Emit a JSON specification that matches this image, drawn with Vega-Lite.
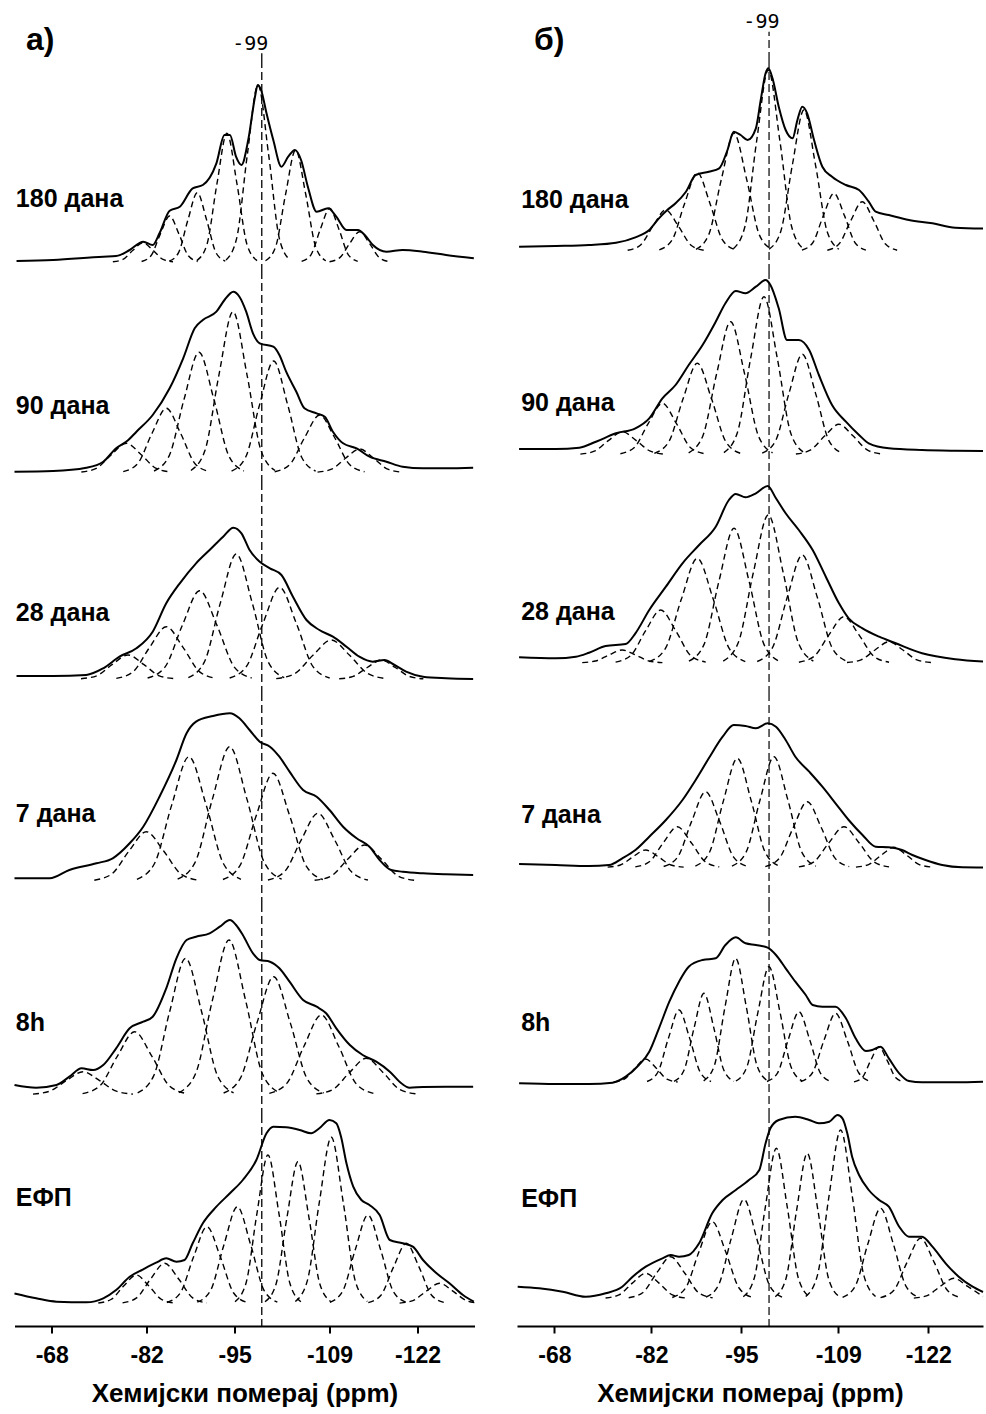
{
"$schema":"https://vega.github.io/schema/vega-lite/v6.json",
"padding":{"left":10.5,"top":12,"right":0,"bottom":5},
"background":"white",
"spacing":34.5,
"config":{"view":{"stroke":null},"text":{"font":"Liberation Sans"},
"axis":{"grid":false,"domainColor":"black","domainWidth":2,"tickColor":"black","tickWidth":2,"tickSize":7,"labelFont":"Liberation Sans","labelFontWeight":"bold","labelFontSize":23,"labelColor":"black","labelPadding":11,"titleFont":"Liberation Sans","titleFontWeight":"bold","titleFontSize":26,"titleColor":"black","titlePadding":13}},
"data":{"values":[
{"p":"a","s":0,"t":"180 дана","x":-62.7,"y":71.8},
{"p":"a","s":1,"t":"90 дана","x":-62.7,"y":75.8},
{"p":"a","s":2,"t":"28 дана","x":-62.7,"y":80.2},
{"p":"a","s":3,"t":"7 дана","x":-62.7,"y":89.8},
{"p":"a","s":4,"t":"8h","x":-62.7,"y":92.5},
{"p":"a","s":5,"t":"ЕФП","x":-62.7,"y":127.7},
{"p":"b","s":0,"t":"180 дана","x":-63.2,"y":71},
{"p":"b","s":1,"t":"90 дана","x":-63.2,"y":78.7},
{"p":"b","s":2,"t":"28 дана","x":-63.2,"y":81.3},
{"p":"b","s":3,"t":"7 дана","x":-63.2,"y":89},
{"p":"b","s":4,"t":"8h","x":-63.2,"y":92.5},
{"p":"b","s":5,"t":"ЕФП","x":-63.2,"y":127},

{"p":"a","s":0,"c":0,"x":-62.8,"y":10},{"p":"a","s":0,"c":0,"x":-68.2,"y":11},{"p":"a","s":0,"c":0,"x":-75.6,"y":14.3},{"p":"a","s":0,"c":0,"x":-77.5,"y":14.9},{"p":"a","s":0,"c":0,"x":-79.5,"y":21},{"p":"a","s":0,"c":0,"x":-81.5,"y":29.3},{"p":"a","s":0,"c":0,"x":-82.9,"y":26},{"p":"a","s":0,"c":0,"x":-83.9,"y":37.7},{"p":"a","s":0,"c":0,"x":-85.4,"y":60.3},{"p":"a","s":0,"c":0,"x":-86.9,"y":64.3},{"p":"a","s":0,"c":0,"x":-88.8,"y":82.7},{"p":"a","s":0,"c":0,"x":-90.3,"y":86},{"p":"a","s":0,"c":0,"x":-92.3,"y":107.7},{"p":"a","s":0,"c":0,"x":-93.5,"y":136},{"p":"a","s":0,"c":0,"x":-94.3,"y":136},{"p":"a","s":0,"c":0,"x":-95.2,"y":114.3},{"p":"a","s":0,"c":0,"x":-96,"y":106},{"p":"a","s":0,"c":0,"x":-97,"y":131},{"p":"a","s":0,"c":0,"x":-98,"y":174.3},{"p":"a","s":0,"c":0,"x":-98.4,"y":186},{"p":"a","s":0,"c":0,"x":-98.9,"y":181},{"p":"a","s":0,"c":0,"x":-99.7,"y":157.7},{"p":"a","s":0,"c":0,"x":-100.7,"y":131},{"p":"a","s":0,"c":0,"x":-101.9,"y":104.3},{"p":"a","s":0,"c":0,"x":-102.9,"y":114.3},{"p":"a","s":0,"c":0,"x":-103.9,"y":121},{"p":"a","s":0,"c":0,"x":-104.8,"y":111},{"p":"a","s":0,"c":0,"x":-105.8,"y":84.3},{"p":"a","s":0,"c":0,"x":-107.1,"y":59.3},{"p":"a","s":0,"c":0,"x":-108.8,"y":62.7},{"p":"a","s":0,"c":0,"x":-110,"y":54.3},{"p":"a","s":0,"c":0,"x":-111.5,"y":41},{"p":"a","s":0,"c":0,"x":-113.2,"y":41},{"p":"a","s":0,"c":0,"x":-114.2,"y":36},{"p":"a","s":0,"c":0,"x":-115.4,"y":26},{"p":"a","s":0,"c":0,"x":-117.4,"y":19.3},{"p":"a","s":0,"c":0,"x":-119.8,"y":21},{"p":"a","s":0,"c":0,"x":-122.8,"y":19.3},{"p":"a","s":0,"c":0,"x":-126.2,"y":16},{"p":"a","s":0,"c":0,"x":-130.3,"y":12.7},

{"p":"a","s":1,"c":0,"x":-62.5,"y":10.3},{"p":"a","s":1,"c":0,"x":-68.2,"y":11},{"p":"a","s":1,"c":0,"x":-73.1,"y":14.3},{"p":"a","s":1,"c":0,"x":-75.6,"y":20.3},{"p":"a","s":1,"c":0,"x":-77.5,"y":33.7},{"p":"a","s":1,"c":0,"x":-79.3,"y":42},{"p":"a","s":1,"c":0,"x":-80.5,"y":50.3},{"p":"a","s":1,"c":0,"x":-82.9,"y":67},{"p":"a","s":1,"c":0,"x":-85.4,"y":93.7},{"p":"a","s":1,"c":0,"x":-87.4,"y":123.7},{"p":"a","s":1,"c":0,"x":-89.1,"y":153.7},{"p":"a","s":1,"c":0,"x":-90.3,"y":162},{"p":"a","s":1,"c":0,"x":-92.3,"y":170.3},{"p":"a","s":1,"c":0,"x":-93.5,"y":182},{"p":"a","s":1,"c":0,"x":-94.8,"y":190.3},{"p":"a","s":1,"c":0,"x":-95.7,"y":185.3},{"p":"a","s":1,"c":0,"x":-96.7,"y":170.3},{"p":"a","s":1,"c":0,"x":-97.7,"y":148.7},{"p":"a","s":1,"c":0,"x":-98.7,"y":138.7},{"p":"a","s":1,"c":0,"x":-100.7,"y":135.3},{"p":"a","s":1,"c":0,"x":-101.6,"y":127},{"p":"a","s":1,"c":0,"x":-102.6,"y":110.3},{"p":"a","s":1,"c":0,"x":-104.1,"y":90.3},{"p":"a","s":1,"c":0,"x":-105.3,"y":73.7},{"p":"a","s":1,"c":0,"x":-107.1,"y":68.7},{"p":"a","s":1,"c":0,"x":-108.3,"y":65.3},{"p":"a","s":1,"c":0,"x":-109.5,"y":50.3},{"p":"a","s":1,"c":0,"x":-111,"y":38.7},{"p":"a","s":1,"c":0,"x":-113,"y":33.7},{"p":"a","s":1,"c":0,"x":-114.9,"y":25.3},{"p":"a","s":1,"c":0,"x":-117.4,"y":20.3},{"p":"a","s":1,"c":0,"x":-119.8,"y":15.3},{"p":"a","s":1,"c":0,"x":-122.8,"y":13.7},{"p":"a","s":1,"c":0,"x":-126.2,"y":13.7},{"p":"a","s":1,"c":0,"x":-130.2,"y":14.3},

{"p":"a","s":2,"c":0,"x":-62.8,"y":17},{"p":"a","s":2,"c":0,"x":-68.2,"y":17},{"p":"a","s":2,"c":0,"x":-73.1,"y":18},{"p":"a","s":2,"c":0,"x":-75.6,"y":24.7},{"p":"a","s":2,"c":0,"x":-78,"y":36.3},{"p":"a","s":2,"c":0,"x":-80.5,"y":44.7},{"p":"a","s":2,"c":0,"x":-82.9,"y":61.3},{"p":"a","s":2,"c":0,"x":-84.9,"y":89.7},{"p":"a","s":2,"c":0,"x":-86.9,"y":109.7},{"p":"a","s":2,"c":0,"x":-89.3,"y":129.7},{"p":"a","s":2,"c":0,"x":-91.3,"y":143},{"p":"a","s":2,"c":0,"x":-93.3,"y":156.3},{"p":"a","s":2,"c":0,"x":-94.8,"y":165.3},{"p":"a","s":2,"c":0,"x":-96,"y":159.7},{"p":"a","s":2,"c":0,"x":-97.2,"y":143},{"p":"a","s":2,"c":0,"x":-98.7,"y":131.3},{"p":"a","s":2,"c":0,"x":-100.2,"y":124.7},{"p":"a","s":2,"c":0,"x":-101.9,"y":118},{"p":"a","s":2,"c":0,"x":-103.6,"y":96.3},{"p":"a","s":2,"c":0,"x":-105.6,"y":73},{"p":"a","s":2,"c":0,"x":-107.5,"y":63},{"p":"a","s":2,"c":0,"x":-109.5,"y":56.3},{"p":"a","s":2,"c":0,"x":-111.5,"y":46.3},{"p":"a","s":2,"c":0,"x":-113.4,"y":36.3},{"p":"a","s":2,"c":0,"x":-115.4,"y":31.3},{"p":"a","s":2,"c":0,"x":-117.1,"y":33},{"p":"a","s":2,"c":0,"x":-118.6,"y":28},{"p":"a","s":2,"c":0,"x":-120.3,"y":21.3},{"p":"a","s":2,"c":0,"x":-122.8,"y":16.3},{"p":"a","s":2,"c":0,"x":-126.2,"y":14.7},{"p":"a","s":2,"c":0,"x":-130.2,"y":14},

{"p":"a","s":3,"c":0,"x":-62.5,"y":25.7},{"p":"a","s":3,"c":0,"x":-67.7,"y":25.7},{"p":"a","s":3,"c":0,"x":-70.6,"y":34},{"p":"a","s":3,"c":0,"x":-74.6,"y":40.7},{"p":"a","s":3,"c":0,"x":-77,"y":45.7},{"p":"a","s":3,"c":0,"x":-79.5,"y":60.7},{"p":"a","s":3,"c":0,"x":-81.5,"y":77.3},{"p":"a","s":3,"c":0,"x":-83.9,"y":107.3},{"p":"a","s":3,"c":0,"x":-86.4,"y":144},{"p":"a","s":3,"c":0,"x":-87.9,"y":170.7},{"p":"a","s":3,"c":0,"x":-89.3,"y":182.3},{"p":"a","s":3,"c":0,"x":-91.8,"y":188},{"p":"a","s":3,"c":0,"x":-94.3,"y":190.7},{"p":"a","s":3,"c":0,"x":-95.7,"y":185.7},{"p":"a","s":3,"c":0,"x":-97.2,"y":174},{"p":"a","s":3,"c":0,"x":-98.7,"y":162.3},{"p":"a","s":3,"c":0,"x":-100.2,"y":157.3},{"p":"a","s":3,"c":0,"x":-101.6,"y":147.3},{"p":"a","s":3,"c":0,"x":-103.1,"y":132.3},{"p":"a","s":3,"c":0,"x":-105.1,"y":114},{"p":"a","s":3,"c":0,"x":-107.1,"y":107.3},{"p":"a","s":3,"c":0,"x":-109,"y":94},{"p":"a","s":3,"c":0,"x":-111,"y":77.3},{"p":"a","s":3,"c":0,"x":-113,"y":65.7},{"p":"a","s":3,"c":0,"x":-114.9,"y":57.3},{"p":"a","s":3,"c":0,"x":-116.4,"y":44},{"p":"a","s":3,"c":0,"x":-118.1,"y":34},{"p":"a","s":3,"c":0,"x":-119.8,"y":32.3},{"p":"a","s":3,"c":0,"x":-122.8,"y":30.7},{"p":"a","s":3,"c":0,"x":-126.2,"y":29.7},{"p":"a","s":3,"c":0,"x":-130.2,"y":29},

{"p":"a","s":4,"c":0,"x":-62.5,"y":30},{"p":"a","s":4,"c":0,"x":-65.7,"y":27.3},{"p":"a","s":4,"c":0,"x":-68.7,"y":30},{"p":"a","s":4,"c":0,"x":-70.6,"y":38.3},{"p":"a","s":4,"c":0,"x":-72.4,"y":46.7},{"p":"a","s":4,"c":0,"x":-74.1,"y":45},{"p":"a","s":4,"c":0,"x":-75.6,"y":50},{"p":"a","s":4,"c":0,"x":-77.5,"y":66.7},{"p":"a","s":4,"c":0,"x":-79.5,"y":86.7},{"p":"a","s":4,"c":0,"x":-81.5,"y":93.3},{"p":"a","s":4,"c":0,"x":-82.9,"y":98.3},{"p":"a","s":4,"c":0,"x":-84.9,"y":126.7},{"p":"a","s":4,"c":0,"x":-86.4,"y":156.7},{"p":"a","s":4,"c":0,"x":-87.9,"y":175},{"p":"a","s":4,"c":0,"x":-89.3,"y":178.3},{"p":"a","s":4,"c":0,"x":-91.3,"y":181.7},{"p":"a","s":4,"c":0,"x":-92.8,"y":188.3},{"p":"a","s":4,"c":0,"x":-94.3,"y":195},{"p":"a","s":4,"c":0,"x":-95.2,"y":190},{"p":"a","s":4,"c":0,"x":-96.2,"y":180},{"p":"a","s":4,"c":0,"x":-97.7,"y":161.7},{"p":"a","s":4,"c":0,"x":-98.7,"y":155},{"p":"a","s":4,"c":0,"x":-100.2,"y":153.3},{"p":"a","s":4,"c":0,"x":-101.6,"y":146.7},{"p":"a","s":4,"c":0,"x":-103.1,"y":133.3},{"p":"a","s":4,"c":0,"x":-105.1,"y":115},{"p":"a","s":4,"c":0,"x":-107.1,"y":108.3},{"p":"a","s":4,"c":0,"x":-108.5,"y":101.7},{"p":"a","s":4,"c":0,"x":-110,"y":86.7},{"p":"a","s":4,"c":0,"x":-112,"y":70},{"p":"a","s":4,"c":0,"x":-113.9,"y":60},{"p":"a","s":4,"c":0,"x":-115.9,"y":53.3},{"p":"a","s":4,"c":0,"x":-117.9,"y":43.3},{"p":"a","s":4,"c":0,"x":-119.6,"y":31.7},{"p":"a","s":4,"c":0,"x":-120.8,"y":27.3},{"p":"a","s":4,"c":0,"x":-122.8,"y":28},{"p":"a","s":4,"c":0,"x":-126.2,"y":28.3},{"p":"a","s":4,"c":0,"x":-130.2,"y":28.3},

{"p":"a","s":5,"c":0,"x":-62.5,"y":32.5},{"p":"a","s":5,"c":0,"x":-65.7,"y":27.7},{"p":"a","s":5,"c":0,"x":-68.7,"y":24.3},{"p":"a","s":5,"c":0,"x":-73.1,"y":23.7},{"p":"a","s":5,"c":0,"x":-75.6,"y":27.7},{"p":"a","s":5,"c":0,"x":-77.5,"y":36},{"p":"a","s":5,"c":0,"x":-79.5,"y":49.3},{"p":"a","s":5,"c":0,"x":-81.5,"y":56.7},{"p":"a","s":5,"c":0,"x":-83.4,"y":63.3},{"p":"a","s":5,"c":0,"x":-84.9,"y":67.7},{"p":"a","s":5,"c":0,"x":-86.4,"y":64.3},{"p":"a","s":5,"c":0,"x":-87.6,"y":66},{"p":"a","s":5,"c":0,"x":-88.8,"y":82.7},{"p":"a","s":5,"c":0,"x":-90.3,"y":102.7},{"p":"a","s":5,"c":0,"x":-92.3,"y":119.3},{"p":"a","s":5,"c":0,"x":-94.3,"y":132.7},{"p":"a","s":5,"c":0,"x":-96.2,"y":146},{"p":"a","s":5,"c":0,"x":-98.2,"y":166},{"p":"a","s":5,"c":0,"x":-99.7,"y":192.7},{"p":"a","s":5,"c":0,"x":-100.7,"y":199.3},{"p":"a","s":5,"c":0,"x":-102.6,"y":198.7},{"p":"a","s":5,"c":0,"x":-104.6,"y":196},{"p":"a","s":5,"c":0,"x":-106.3,"y":192.7},{"p":"a","s":5,"c":0,"x":-107.5,"y":197.7},{"p":"a","s":5,"c":0,"x":-109,"y":206},{"p":"a","s":5,"c":0,"x":-110,"y":202.7},{"p":"a","s":5,"c":0,"x":-110.7,"y":189.3},{"p":"a","s":5,"c":0,"x":-111.5,"y":162.7},{"p":"a","s":5,"c":0,"x":-112.5,"y":139.3},{"p":"a","s":5,"c":0,"x":-113.7,"y":126},{"p":"a","s":5,"c":0,"x":-114.9,"y":121},{"p":"a","s":5,"c":0,"x":-116.4,"y":111},{"p":"a","s":5,"c":0,"x":-117.9,"y":86},{"p":"a","s":5,"c":0,"x":-119.8,"y":82.7},{"p":"a","s":5,"c":0,"x":-121.3,"y":79.3},{"p":"a","s":5,"c":0,"x":-122.8,"y":66},{"p":"a","s":5,"c":0,"x":-124.8,"y":52.7},{"p":"a","s":5,"c":0,"x":-126.7,"y":42.7},{"p":"a","s":5,"c":0,"x":-128.7,"y":31},{"p":"a","s":5,"c":0,"x":-130.3,"y":24.3},

{"p":"b","s":0,"c":0,"x":-62.9,"y":24.3},{"p":"b","s":0,"c":0,"x":-68.2,"y":25},{"p":"b","s":0,"c":0,"x":-73,"y":26},{"p":"b","s":0,"c":0,"x":-76.9,"y":28.3},{"p":"b","s":0,"c":0,"x":-79.7,"y":33.7},{"p":"b","s":0,"c":0,"x":-81.7,"y":41},{"p":"b","s":0,"c":0,"x":-83.1,"y":52.7},{"p":"b","s":0,"c":0,"x":-84.3,"y":61},{"p":"b","s":0,"c":0,"x":-85.5,"y":67.7},{"p":"b","s":0,"c":0,"x":-87,"y":79.3},{"p":"b","s":0,"c":0,"x":-88.4,"y":96},{"p":"b","s":0,"c":0,"x":-90.3,"y":99.3},{"p":"b","s":0,"c":0,"x":-91.8,"y":102.7},{"p":"b","s":0,"c":0,"x":-93,"y":121},{"p":"b","s":0,"c":0,"x":-93.9,"y":139.3},{"p":"b","s":0,"c":0,"x":-94.9,"y":136},{"p":"b","s":0,"c":0,"x":-95.9,"y":131},{"p":"b","s":0,"c":0,"x":-97.1,"y":142.7},{"p":"b","s":0,"c":0,"x":-97.8,"y":171},{"p":"b","s":0,"c":0,"x":-98.5,"y":197.7},{"p":"b","s":0,"c":0,"x":-98.9,"y":202.7},{"p":"b","s":0,"c":0,"x":-99.5,"y":192.7},{"p":"b","s":0,"c":0,"x":-100.4,"y":164.3},{"p":"b","s":0,"c":0,"x":-101.4,"y":141},{"p":"b","s":0,"c":0,"x":-102.4,"y":132.7},{"p":"b","s":0,"c":0,"x":-103.1,"y":151},{"p":"b","s":0,"c":0,"x":-103.8,"y":164.3},{"p":"b","s":0,"c":0,"x":-104.5,"y":157.7},{"p":"b","s":0,"c":0,"x":-105.5,"y":131},{"p":"b","s":0,"c":0,"x":-106.7,"y":104.3},{"p":"b","s":0,"c":0,"x":-108.1,"y":94.3},{"p":"b","s":0,"c":0,"x":-110.1,"y":86},{"p":"b","s":0,"c":0,"x":-112,"y":81},{"p":"b","s":0,"c":0,"x":-113.4,"y":69.3},{"p":"b","s":0,"c":0,"x":-114.4,"y":59.3},{"p":"b","s":0,"c":0,"x":-116.3,"y":56},{"p":"b","s":0,"c":0,"x":-119.2,"y":51},{"p":"b","s":0,"c":0,"x":-122.6,"y":47.7},{"p":"b","s":0,"c":0,"x":-125.9,"y":43.3},{"p":"b","s":0,"c":0,"x":-129.9,"y":42.5},

{"p":"b","s":1,"c":0,"x":-62.9,"y":33},{"p":"b","s":1,"c":0,"x":-68.2,"y":33},{"p":"b","s":1,"c":0,"x":-71.6,"y":34.3},{"p":"b","s":1,"c":0,"x":-74,"y":40.3},{"p":"b","s":1,"c":0,"x":-76.9,"y":48.7},{"p":"b","s":1,"c":0,"x":-79.7,"y":53.7},{"p":"b","s":1,"c":0,"x":-81.7,"y":63.7},{"p":"b","s":1,"c":0,"x":-83.6,"y":83.7},{"p":"b","s":1,"c":0,"x":-85.5,"y":97},{"p":"b","s":1,"c":0,"x":-87.4,"y":117},{"p":"b","s":1,"c":0,"x":-89.4,"y":137},{"p":"b","s":1,"c":0,"x":-91.3,"y":160.3},{"p":"b","s":1,"c":0,"x":-92.7,"y":178.7},{"p":"b","s":1,"c":0,"x":-94.2,"y":191},{"p":"b","s":1,"c":0,"x":-95.6,"y":188.7},{"p":"b","s":1,"c":0,"x":-97.1,"y":195.3},{"p":"b","s":1,"c":0,"x":-98.5,"y":202},{"p":"b","s":1,"c":0,"x":-99.2,"y":197},{"p":"b","s":1,"c":0,"x":-100.4,"y":173.7},{"p":"b","s":1,"c":0,"x":-101.6,"y":142},{"p":"b","s":1,"c":0,"x":-103.3,"y":142},{"p":"b","s":1,"c":0,"x":-104.8,"y":132},{"p":"b","s":1,"c":0,"x":-106.2,"y":107},{"p":"b","s":1,"c":0,"x":-108.1,"y":77},{"p":"b","s":1,"c":0,"x":-110.1,"y":60.3},{"p":"b","s":1,"c":0,"x":-112,"y":47},{"p":"b","s":1,"c":0,"x":-113.4,"y":38.7},{"p":"b","s":1,"c":0,"x":-116.3,"y":33.7},{"p":"b","s":1,"c":0,"x":-121.1,"y":32},{"p":"b","s":1,"c":0,"x":-125.9,"y":31.3},{"p":"b","s":1,"c":0,"x":-129.9,"y":31},

{"p":"b","s":2,"c":0,"x":-62.9,"y":35.7},{"p":"b","s":2,"c":0,"x":-68.2,"y":34.7},{"p":"b","s":2,"c":0,"x":-71.1,"y":36.3},{"p":"b","s":2,"c":0,"x":-73,"y":40.3},{"p":"b","s":2,"c":0,"x":-75.4,"y":47},{"p":"b","s":2,"c":0,"x":-78.3,"y":49},{"p":"b","s":2,"c":0,"x":-79.7,"y":59.7},{"p":"b","s":2,"c":0,"x":-81.7,"y":83},{"p":"b","s":2,"c":0,"x":-84.1,"y":106.3},{"p":"b","s":2,"c":0,"x":-86.5,"y":129.7},{"p":"b","s":2,"c":0,"x":-88.9,"y":148},{"p":"b","s":2,"c":0,"x":-91.3,"y":166.3},{"p":"b","s":2,"c":0,"x":-93.2,"y":193},{"p":"b","s":2,"c":0,"x":-94.2,"y":199},{"p":"b","s":2,"c":0,"x":-95.6,"y":195.7},{"p":"b","s":2,"c":0,"x":-97.1,"y":199.7},{"p":"b","s":2,"c":0,"x":-98.8,"y":207},{"p":"b","s":2,"c":0,"x":-100,"y":194.7},{"p":"b","s":2,"c":0,"x":-101.4,"y":179.7},{"p":"b","s":2,"c":0,"x":-103.3,"y":163},{"p":"b","s":2,"c":0,"x":-105.3,"y":143},{"p":"b","s":2,"c":0,"x":-107.2,"y":116.3},{"p":"b","s":2,"c":0,"x":-109.1,"y":89.7},{"p":"b","s":2,"c":0,"x":-110.5,"y":74.7},{"p":"b","s":2,"c":0,"x":-112.5,"y":64.7},{"p":"b","s":2,"c":0,"x":-114.9,"y":56.3},{"p":"b","s":2,"c":0,"x":-117.3,"y":49.7},{"p":"b","s":2,"c":0,"x":-121.1,"y":39.7},{"p":"b","s":2,"c":0,"x":-125.9,"y":33.7},{"p":"b","s":2,"c":0,"x":-129.9,"y":31.5},

{"p":"b","s":3,"c":0,"x":-62.9,"y":40},{"p":"b","s":3,"c":0,"x":-68.2,"y":39},{"p":"b","s":3,"c":0,"x":-73,"y":38},{"p":"b","s":3,"c":0,"x":-75.9,"y":39},{"p":"b","s":3,"c":0,"x":-77.8,"y":45.7},{"p":"b","s":3,"c":0,"x":-79.7,"y":54},{"p":"b","s":3,"c":0,"x":-81.7,"y":67.3},{"p":"b","s":3,"c":0,"x":-84.1,"y":84},{"p":"b","s":3,"c":0,"x":-86.5,"y":104},{"p":"b","s":3,"c":0,"x":-88.4,"y":124},{"p":"b","s":3,"c":0,"x":-90.3,"y":145.7},{"p":"b","s":3,"c":0,"x":-92.3,"y":167.3},{"p":"b","s":3,"c":0,"x":-93.9,"y":179},{"p":"b","s":3,"c":0,"x":-95.6,"y":178},{"p":"b","s":3,"c":0,"x":-97.1,"y":175.7},{"p":"b","s":3,"c":0,"x":-98.8,"y":180.7},{"p":"b","s":3,"c":0,"x":-100,"y":177.3},{"p":"b","s":3,"c":0,"x":-101.4,"y":164},{"p":"b","s":3,"c":0,"x":-102.8,"y":147.3},{"p":"b","s":3,"c":0,"x":-104.8,"y":132.3},{"p":"b","s":3,"c":0,"x":-106.7,"y":117.3},{"p":"b","s":3,"c":0,"x":-108.6,"y":100.7},{"p":"b","s":3,"c":0,"x":-110.5,"y":84},{"p":"b","s":3,"c":0,"x":-112.5,"y":69},{"p":"b","s":3,"c":0,"x":-114.4,"y":57.3},{"p":"b","s":3,"c":0,"x":-116.3,"y":56.7},{"p":"b","s":3,"c":0,"x":-118.2,"y":54},{"p":"b","s":3,"c":0,"x":-119.7,"y":49},{"p":"b","s":3,"c":0,"x":-121.6,"y":44},{"p":"b","s":3,"c":0,"x":-124,"y":39},{"p":"b","s":3,"c":0,"x":-126.9,"y":36.7},{"p":"b","s":3,"c":0,"x":-129.9,"y":36.5},

{"p":"b","s":4,"c":0,"x":-62.9,"y":31.7},{"p":"b","s":4,"c":0,"x":-68.2,"y":31},{"p":"b","s":4,"c":0,"x":-73,"y":31},{"p":"b","s":4,"c":0,"x":-76.4,"y":32.3},{"p":"b","s":4,"c":0,"x":-78.3,"y":38.3},{"p":"b","s":4,"c":0,"x":-80.2,"y":50},{"p":"b","s":4,"c":0,"x":-81.7,"y":63.3},{"p":"b","s":4,"c":0,"x":-83.1,"y":86.7},{"p":"b","s":4,"c":0,"x":-84.6,"y":113.3},{"p":"b","s":4,"c":0,"x":-86,"y":133.3},{"p":"b","s":4,"c":0,"x":-87.4,"y":148.3},{"p":"b","s":4,"c":0,"x":-89.4,"y":155},{"p":"b","s":4,"c":0,"x":-91.3,"y":156.7},{"p":"b","s":4,"c":0,"x":-92.7,"y":170},{"p":"b","s":4,"c":0,"x":-94.2,"y":177.7},{"p":"b","s":4,"c":0,"x":-95.6,"y":171.7},{"p":"b","s":4,"c":0,"x":-97.1,"y":170},{"p":"b","s":4,"c":0,"x":-98.8,"y":167.3},{"p":"b","s":4,"c":0,"x":-100,"y":160},{"p":"b","s":4,"c":0,"x":-101.4,"y":146.7},{"p":"b","s":4,"c":0,"x":-102.8,"y":133.3},{"p":"b","s":4,"c":0,"x":-104.3,"y":120},{"p":"b","s":4,"c":0,"x":-105.3,"y":110},{"p":"b","s":4,"c":0,"x":-106.7,"y":108.3},{"p":"b","s":4,"c":0,"x":-108.6,"y":108.3},{"p":"b","s":4,"c":0,"x":-110.1,"y":96.7},{"p":"b","s":4,"c":0,"x":-111.5,"y":76.7},{"p":"b","s":4,"c":0,"x":-113,"y":64},{"p":"b","s":4,"c":0,"x":-113.9,"y":65},{"p":"b","s":4,"c":0,"x":-115.1,"y":68.3},{"p":"b","s":4,"c":0,"x":-116.3,"y":56.7},{"p":"b","s":4,"c":0,"x":-117.8,"y":41.7},{"p":"b","s":4,"c":0,"x":-119.2,"y":34},{"p":"b","s":4,"c":0,"x":-121.1,"y":32.7},{"p":"b","s":4,"c":0,"x":-125.9,"y":32.7},{"p":"b","s":4,"c":0,"x":-129.9,"y":33.2},

{"p":"b","s":5,"c":0,"x":-62.7,"y":39.3},{"p":"b","s":5,"c":0,"x":-65.8,"y":37.7},{"p":"b","s":5,"c":0,"x":-69.2,"y":34.3},{"p":"b","s":5,"c":0,"x":-72.5,"y":29.3},{"p":"b","s":5,"c":0,"x":-75.4,"y":32.7},{"p":"b","s":5,"c":0,"x":-77.8,"y":39.3},{"p":"b","s":5,"c":0,"x":-79.3,"y":49.3},{"p":"b","s":5,"c":0,"x":-81.2,"y":59.3},{"p":"b","s":5,"c":0,"x":-83.6,"y":67.7},{"p":"b","s":5,"c":0,"x":-84.8,"y":71},{"p":"b","s":5,"c":0,"x":-86,"y":69.3},{"p":"b","s":5,"c":0,"x":-87.4,"y":71},{"p":"b","s":5,"c":0,"x":-88.9,"y":82.7},{"p":"b","s":5,"c":0,"x":-90.8,"y":112.7},{"p":"b","s":5,"c":0,"x":-92.3,"y":126},{"p":"b","s":5,"c":0,"x":-94.2,"y":136},{"p":"b","s":5,"c":0,"x":-96.1,"y":146},{"p":"b","s":5,"c":0,"x":-97.6,"y":156},{"p":"b","s":5,"c":0,"x":-98.5,"y":182.7},{"p":"b","s":5,"c":0,"x":-99.2,"y":197.7},{"p":"b","s":5,"c":0,"x":-100.4,"y":206},{"p":"b","s":5,"c":0,"x":-102.8,"y":209.3},{"p":"b","s":5,"c":0,"x":-104.8,"y":206},{"p":"b","s":5,"c":0,"x":-106.2,"y":202.7},{"p":"b","s":5,"c":0,"x":-107.7,"y":204.3},{"p":"b","s":5,"c":0,"x":-108.9,"y":211},{"p":"b","s":5,"c":0,"x":-109.6,"y":207.7},{"p":"b","s":5,"c":0,"x":-110.3,"y":192.7},{"p":"b","s":5,"c":0,"x":-111,"y":169.3},{"p":"b","s":5,"c":0,"x":-112,"y":151},{"p":"b","s":5,"c":0,"x":-113.4,"y":136},{"p":"b","s":5,"c":0,"x":-114.9,"y":126},{"p":"b","s":5,"c":0,"x":-116.3,"y":119.3},{"p":"b","s":5,"c":0,"x":-117.8,"y":99.3},{"p":"b","s":5,"c":0,"x":-119.2,"y":89.3},{"p":"b","s":5,"c":0,"x":-121.1,"y":89.3},{"p":"b","s":5,"c":0,"x":-122.6,"y":79.3},{"p":"b","s":5,"c":0,"x":-124.5,"y":62.7},{"p":"b","s":5,"c":0,"x":-126.4,"y":49.3},{"p":"b","s":5,"c":0,"x":-128.4,"y":39.3},{"p":"b","s":5,"c":0,"x":-129.9,"y":34},

{"p":"a","s":0,"c":1,"x":-77.02,"y":9.2},{"p":"a","s":0,"c":1,"x":-78.5,"y":11.6},{"p":"a","s":0,"c":1,"x":-79.98,"y":20.7},{"p":"a","s":0,"c":1,"x":-81.46,"y":28.3},{"p":"a","s":0,"c":1,"x":-82.94,"y":20.7},{"p":"a","s":0,"c":1,"x":-84.42,"y":11.6},{"p":"a","s":0,"c":1,"x":-85.9,"y":9.2},
{"p":"a","s":0,"c":2,"x":-81.26,"y":9.5},{"p":"a","s":0,"c":2,"x":-82.64,"y":15.2},{"p":"a","s":0,"c":2,"x":-84.02,"y":36.9},{"p":"a","s":0,"c":2,"x":-85.4,"y":55},{"p":"a","s":0,"c":2,"x":-86.78,"y":36.9},{"p":"a","s":0,"c":2,"x":-88.16,"y":15.2},{"p":"a","s":0,"c":2,"x":-89.54,"y":9.5},
{"p":"a","s":0,"c":3,"x":-85.34,"y":9.8},{"p":"a","s":0,"c":3,"x":-86.72,"y":18.4},{"p":"a","s":0,"c":3,"x":-88.1,"y":51.1},{"p":"a","s":0,"c":3,"x":-89.48,"y":78.3},{"p":"a","s":0,"c":3,"x":-90.86,"y":51.1},{"p":"a","s":0,"c":3,"x":-92.24,"y":18.4},{"p":"a","s":0,"c":3,"x":-93.62,"y":9.8},
{"p":"a","s":0,"c":4,"x":-89.42,"y":10.4},{"p":"a","s":0,"c":4,"x":-90.9,"y":26.4},{"p":"a","s":0,"c":4,"x":-92.38,"y":87.1},{"p":"a","s":0,"c":4,"x":-93.86,"y":137.7},{"p":"a","s":0,"c":4,"x":-95.34,"y":87.1},{"p":"a","s":0,"c":4,"x":-96.82,"y":26.4},{"p":"a","s":0,"c":4,"x":-98.3,"y":10.4},
{"p":"a","s":0,"c":5,"x":-93.73,"y":10.9},{"p":"a","s":0,"c":5,"x":-95.3,"y":32.9},{"p":"a","s":0,"c":5,"x":-96.87,"y":116.4},{"p":"a","s":0,"c":5,"x":-98.44,"y":186},{"p":"a","s":0,"c":5,"x":-100.01,"y":116.4},{"p":"a","s":0,"c":5,"x":-101.58,"y":32.9},{"p":"a","s":0,"c":5,"x":-103.15,"y":10.9},
{"p":"a","s":0,"c":6,"x":-99.56,"y":10.2},{"p":"a","s":0,"c":6,"x":-101.04,"y":24.1},{"p":"a","s":0,"c":6,"x":-102.52,"y":77},{"p":"a","s":0,"c":6,"x":-104,"y":121},{"p":"a","s":0,"c":6,"x":-105.48,"y":77},{"p":"a","s":0,"c":6,"x":-106.96,"y":24.1},{"p":"a","s":0,"c":6,"x":-108.44,"y":10.2},
{"p":"a","s":0,"c":7,"x":-104.88,"y":9.6},{"p":"a","s":0,"c":7,"x":-106.26,"y":16.2},{"p":"a","s":0,"c":7,"x":-107.64,"y":41.6},{"p":"a","s":0,"c":7,"x":-109.02,"y":62.7},{"p":"a","s":0,"c":7,"x":-110.4,"y":41.6},{"p":"a","s":0,"c":7,"x":-111.78,"y":16.2},{"p":"a","s":0,"c":7,"x":-113.16,"y":9.6},
{"p":"a","s":0,"c":8,"x":-109,"y":9.3},{"p":"a","s":0,"c":8,"x":-110.48,"y":13.1},{"p":"a","s":0,"c":8,"x":-111.96,"y":27.4},{"p":"a","s":0,"c":8,"x":-113.44,"y":39.3},{"p":"a","s":0,"c":8,"x":-114.92,"y":27.4},{"p":"a","s":0,"c":8,"x":-116.4,"y":13.1},{"p":"a","s":0,"c":8,"x":-117.88,"y":9.3},

{"p":"a","s":1,"c":1,"x":-72.37,"y":10},{"p":"a","s":1,"c":1,"x":-74.58,"y":13.6},{"p":"a","s":1,"c":1,"x":-76.79,"y":27.3},{"p":"a","s":1,"c":1,"x":-79,"y":38.7},{"p":"a","s":1,"c":1,"x":-81.21,"y":27.3},{"p":"a","s":1,"c":1,"x":-83.42,"y":13.6},{"p":"a","s":1,"c":1,"x":-85.63,"y":10},
{"p":"a","s":1,"c":2,"x":-78.55,"y":10.4},{"p":"a","s":1,"c":2,"x":-80.67,"y":18.3},{"p":"a","s":1,"c":2,"x":-82.79,"y":48.5},{"p":"a","s":1,"c":2,"x":-84.91,"y":73.7},{"p":"a","s":1,"c":2,"x":-87.03,"y":48.5},{"p":"a","s":1,"c":2,"x":-89.15,"y":18.3},{"p":"a","s":1,"c":2,"x":-91.27,"y":10.4},
{"p":"a","s":1,"c":3,"x":-83.1,"y":11},{"p":"a","s":1,"c":3,"x":-85.31,"y":25.9},{"p":"a","s":1,"c":3,"x":-87.52,"y":82.5},{"p":"a","s":1,"c":3,"x":-89.73,"y":129.7},{"p":"a","s":1,"c":3,"x":-91.94,"y":82.5},{"p":"a","s":1,"c":3,"x":-94.15,"y":25.9},{"p":"a","s":1,"c":3,"x":-96.36,"y":11},
{"p":"a","s":1,"c":4,"x":-88.54,"y":11.5},{"p":"a","s":1,"c":4,"x":-90.61,"y":31.4},{"p":"a","s":1,"c":4,"x":-92.68,"y":107.2},{"p":"a","s":1,"c":4,"x":-94.75,"y":170.3},{"p":"a","s":1,"c":4,"x":-96.82,"y":107.2},{"p":"a","s":1,"c":4,"x":-98.89,"y":31.4},{"p":"a","s":1,"c":4,"x":-100.96,"y":11.5},
{"p":"a","s":1,"c":5,"x":-94.54,"y":10.9},{"p":"a","s":1,"c":5,"x":-96.61,"y":24.7},{"p":"a","s":1,"c":5,"x":-98.68,"y":77.3},{"p":"a","s":1,"c":5,"x":-100.75,"y":121},{"p":"a","s":1,"c":5,"x":-102.82,"y":77.3},{"p":"a","s":1,"c":5,"x":-104.89,"y":24.7},{"p":"a","s":1,"c":5,"x":-106.96,"y":10.9},
{"p":"a","s":1,"c":6,"x":-100.91,"y":10.3},{"p":"a","s":1,"c":6,"x":-103.12,"y":17.4},{"p":"a","s":1,"c":6,"x":-105.33,"y":44.5},{"p":"a","s":1,"c":6,"x":-107.54,"y":67},{"p":"a","s":1,"c":6,"x":-109.75,"y":44.5},{"p":"a","s":1,"c":6,"x":-111.96,"y":17.4},{"p":"a","s":1,"c":6,"x":-114.17,"y":10.3},
{"p":"a","s":1,"c":7,"x":-107.23,"y":9.9},{"p":"a","s":1,"c":7,"x":-109.3,"y":12.8},{"p":"a","s":1,"c":7,"x":-111.37,"y":23.8},{"p":"a","s":1,"c":7,"x":-113.44,"y":33},{"p":"a","s":1,"c":7,"x":-115.51,"y":23.8},{"p":"a","s":1,"c":7,"x":-117.58,"y":12.8},{"p":"a","s":1,"c":7,"x":-119.65,"y":9.9},

{"p":"a","s":2,"c":1,"x":-72.32,"y":14.3},{"p":"a","s":2,"c":1,"x":-74.63,"y":17.2},{"p":"a","s":2,"c":1,"x":-76.94,"y":28.6},{"p":"a","s":2,"c":1,"x":-79.25,"y":38},{"p":"a","s":2,"c":1,"x":-81.56,"y":28.6},{"p":"a","s":2,"c":1,"x":-83.87,"y":17.2},{"p":"a","s":2,"c":1,"x":-86.18,"y":14.3},
{"p":"a","s":2,"c":2,"x":-77.53,"y":14.6},{"p":"a","s":2,"c":2,"x":-79.99,"y":21.1},{"p":"a","s":2,"c":2,"x":-82.45,"y":45.7},{"p":"a","s":2,"c":2,"x":-84.91,"y":66.3},{"p":"a","s":2,"c":2,"x":-87.37,"y":45.7},{"p":"a","s":2,"c":2,"x":-89.83,"y":21.1},{"p":"a","s":2,"c":2,"x":-92.29,"y":14.6},
{"p":"a","s":2,"c":3,"x":-82.15,"y":15},{"p":"a","s":2,"c":3,"x":-84.71,"y":25.9},{"p":"a","s":2,"c":3,"x":-87.27,"y":67.6},{"p":"a","s":2,"c":3,"x":-89.83,"y":102.3},{"p":"a","s":2,"c":3,"x":-92.39,"y":67.6},{"p":"a","s":2,"c":3,"x":-94.95,"y":25.9},{"p":"a","s":2,"c":3,"x":-97.51,"y":15},
{"p":"a","s":2,"c":4,"x":-88.16,"y":15.4},{"p":"a","s":2,"c":4,"x":-90.52,"y":30.9},{"p":"a","s":2,"c":4,"x":-92.88,"y":89.9},{"p":"a","s":2,"c":4,"x":-95.24,"y":139},{"p":"a","s":2,"c":4,"x":-97.6,"y":89.9},{"p":"a","s":2,"c":4,"x":-99.96,"y":30.9},{"p":"a","s":2,"c":4,"x":-102.32,"y":15.4},
{"p":"a","s":2,"c":5,"x":-94.26,"y":15},{"p":"a","s":2,"c":5,"x":-96.72,"y":26.4},{"p":"a","s":2,"c":5,"x":-99.18,"y":69.7},{"p":"a","s":2,"c":5,"x":-101.64,"y":105.7},{"p":"a","s":2,"c":5,"x":-104.1,"y":69.7},{"p":"a","s":2,"c":5,"x":-106.56,"y":26.4},{"p":"a","s":2,"c":5,"x":-109.02,"y":15},
{"p":"a","s":2,"c":6,"x":-101.13,"y":14.4},{"p":"a","s":2,"c":6,"x":-103.84,"y":19.3},{"p":"a","s":2,"c":6,"x":-106.55,"y":37.7},{"p":"a","s":2,"c":6,"x":-109.26,"y":53},{"p":"a","s":2,"c":6,"x":-111.97,"y":37.7},{"p":"a","s":2,"c":6,"x":-114.68,"y":19.3},{"p":"a","s":2,"c":6,"x":-117.39,"y":14.4},
{"p":"a","s":2,"c":7,"x":-110.43,"y":14.2},{"p":"a","s":2,"c":7,"x":-112.5,"y":16.6},{"p":"a","s":2,"c":7,"x":-114.57,"y":25.5},{"p":"a","s":2,"c":7,"x":-116.64,"y":33},{"p":"a","s":2,"c":7,"x":-118.71,"y":25.5},{"p":"a","s":2,"c":7,"x":-120.78,"y":16.6},{"p":"a","s":2,"c":7,"x":-122.85,"y":14.2},

{"p":"a","s":3,"c":1,"x":-74.28,"y":23.8},{"p":"a","s":3,"c":1,"x":-76.84,"y":29.9},{"p":"a","s":3,"c":1,"x":-79.4,"y":53},{"p":"a","s":3,"c":1,"x":-81.96,"y":72.3},{"p":"a","s":3,"c":1,"x":-84.52,"y":53},{"p":"a","s":3,"c":1,"x":-87.08,"y":29.9},{"p":"a","s":3,"c":1,"x":-89.64,"y":23.8},
{"p":"a","s":3,"c":2,"x":-80.57,"y":24.7},{"p":"a","s":3,"c":2,"x":-83.13,"y":40},{"p":"a","s":3,"c":2,"x":-85.69,"y":98.6},{"p":"a","s":3,"c":2,"x":-88.25,"y":147.3},{"p":"a","s":3,"c":2,"x":-90.81,"y":98.6},{"p":"a","s":3,"c":2,"x":-93.37,"y":40},{"p":"a","s":3,"c":2,"x":-95.93,"y":24.7},
{"p":"a","s":3,"c":3,"x":-86.58,"y":24.8},{"p":"a","s":3,"c":3,"x":-89.14,"y":41.4},{"p":"a","s":3,"c":3,"x":-91.7,"y":104.6},{"p":"a","s":3,"c":3,"x":-94.26,"y":157.3},{"p":"a","s":3,"c":3,"x":-96.82,"y":104.6},{"p":"a","s":3,"c":3,"x":-99.38,"y":41.4},{"p":"a","s":3,"c":3,"x":-101.94,"y":24.8},
{"p":"a","s":3,"c":4,"x":-93.27,"y":24.5},{"p":"a","s":3,"c":4,"x":-95.73,"y":37.8},{"p":"a","s":3,"c":4,"x":-98.19,"y":88.5},{"p":"a","s":3,"c":4,"x":-100.65,"y":130.7},{"p":"a","s":3,"c":4,"x":-103.11,"y":88.5},{"p":"a","s":3,"c":4,"x":-105.57,"y":37.8},{"p":"a","s":3,"c":4,"x":-108.03,"y":24.5},
{"p":"a","s":3,"c":5,"x":-99.91,"y":24},{"p":"a","s":3,"c":5,"x":-102.37,"y":32.4},{"p":"a","s":3,"c":5,"x":-104.83,"y":64.2},{"p":"a","s":3,"c":5,"x":-107.29,"y":90.7},{"p":"a","s":3,"c":5,"x":-109.75,"y":64.2},{"p":"a","s":3,"c":5,"x":-112.21,"y":32.4},{"p":"a","s":3,"c":5,"x":-114.67,"y":24},
{"p":"a","s":3,"c":6,"x":-106.8,"y":23.7},{"p":"a","s":3,"c":6,"x":-109.26,"y":28.1},{"p":"a","s":3,"c":6,"x":-111.72,"y":45},{"p":"a","s":3,"c":6,"x":-114.18,"y":59},{"p":"a","s":3,"c":6,"x":-116.64,"y":45},{"p":"a","s":3,"c":6,"x":-119.1,"y":28.1},{"p":"a","s":3,"c":6,"x":-121.56,"y":23.7},

{"p":"a","s":4,"c":1,"x":-65.23,"y":20.9},{"p":"a","s":4,"c":1,"x":-67.69,"y":23.8},{"p":"a","s":4,"c":1,"x":-70.15,"y":34.4},{"p":"a","s":4,"c":1,"x":-72.61,"y":43.3},{"p":"a","s":4,"c":1,"x":-75.07,"y":34.4},{"p":"a","s":4,"c":1,"x":-77.53,"y":23.8},{"p":"a","s":4,"c":1,"x":-79.99,"y":20.9},
{"p":"a","s":4,"c":2,"x":-72.55,"y":21.4},{"p":"a","s":4,"c":2,"x":-75.11,"y":29.2},{"p":"a","s":4,"c":2,"x":-77.67,"y":58.7},{"p":"a","s":4,"c":2,"x":-80.23,"y":83.3},{"p":"a","s":4,"c":2,"x":-82.79,"y":58.7},{"p":"a","s":4,"c":2,"x":-85.35,"y":29.2},{"p":"a","s":4,"c":2,"x":-87.91,"y":21.4},
{"p":"a","s":4,"c":3,"x":-80.68,"y":22.2},{"p":"a","s":4,"c":3,"x":-83.04,"y":39.1},{"p":"a","s":4,"c":3,"x":-85.4,"y":103.3},{"p":"a","s":4,"c":3,"x":-87.76,"y":156.7},{"p":"a","s":4,"c":3,"x":-90.12,"y":103.3},{"p":"a","s":4,"c":3,"x":-92.48,"y":39.1},{"p":"a","s":4,"c":3,"x":-94.84,"y":22.2},
{"p":"a","s":4,"c":4,"x":-86.78,"y":22.4},{"p":"a","s":4,"c":4,"x":-89.24,"y":41.5},{"p":"a","s":4,"c":4,"x":-91.7,"y":114.4},{"p":"a","s":4,"c":4,"x":-94.16,"y":175},{"p":"a","s":4,"c":4,"x":-96.62,"y":114.4},{"p":"a","s":4,"c":4,"x":-99.08,"y":41.5},{"p":"a","s":4,"c":4,"x":-101.54,"y":22.4},
{"p":"a","s":4,"c":5,"x":-93.37,"y":22},{"p":"a","s":4,"c":5,"x":-95.83,"y":36.6},{"p":"a","s":4,"c":5,"x":-98.29,"y":92.1},{"p":"a","s":4,"c":5,"x":-100.75,"y":138.3},{"p":"a","s":4,"c":5,"x":-103.21,"y":92.1},{"p":"a","s":4,"c":5,"x":-105.67,"y":36.6},{"p":"a","s":4,"c":5,"x":-108.13,"y":22},
{"p":"a","s":4,"c":6,"x":-100.11,"y":21.6},{"p":"a","s":4,"c":6,"x":-102.67,"y":31.4},{"p":"a","s":4,"c":6,"x":-105.23,"y":68.8},{"p":"a","s":4,"c":6,"x":-107.79,"y":100},{"p":"a","s":4,"c":6,"x":-110.35,"y":68.8},{"p":"a","s":4,"c":6,"x":-112.91,"y":31.4},{"p":"a","s":4,"c":6,"x":-115.47,"y":21.6},
{"p":"a","s":4,"c":7,"x":-107.05,"y":21.1},{"p":"a","s":4,"c":7,"x":-109.51,"y":25.6},{"p":"a","s":4,"c":7,"x":-111.97,"y":42.6},{"p":"a","s":4,"c":7,"x":-114.43,"y":56.7},{"p":"a","s":4,"c":7,"x":-116.89,"y":42.6},{"p":"a","s":4,"c":7,"x":-119.35,"y":25.6},{"p":"a","s":4,"c":7,"x":-121.81,"y":21.1},

{"p":"a","s":5,"c":1,"x":-74.87,"y":23},{"p":"a","s":5,"c":1,"x":-76.74,"y":26.5},{"p":"a","s":5,"c":1,"x":-78.61,"y":39.9},{"p":"a","s":5,"c":1,"x":-80.48,"y":51},{"p":"a","s":5,"c":1,"x":-82.35,"y":39.9},{"p":"a","s":5,"c":1,"x":-84.22,"y":26.5},{"p":"a","s":5,"c":1,"x":-86.09,"y":23},
{"p":"a","s":5,"c":2,"x":-78.45,"y":23.1},{"p":"a","s":5,"c":2,"x":-80.52,"y":28.1},{"p":"a","s":5,"c":2,"x":-82.59,"y":47},{"p":"a","s":5,"c":2,"x":-84.66,"y":62.7},{"p":"a","s":5,"c":2,"x":-86.73,"y":47},{"p":"a","s":5,"c":2,"x":-88.8,"y":28.1},{"p":"a","s":5,"c":2,"x":-90.87,"y":23.1},
{"p":"a","s":5,"c":3,"x":-85,"y":23.5},{"p":"a","s":5,"c":3,"x":-86.97,"y":33},{"p":"a","s":5,"c":3,"x":-88.94,"y":69.2},{"p":"a","s":5,"c":3,"x":-90.91,"y":99.3},{"p":"a","s":5,"c":3,"x":-92.88,"y":69.2},{"p":"a","s":5,"c":3,"x":-94.85,"y":33},{"p":"a","s":5,"c":3,"x":-96.82,"y":23.5},
{"p":"a","s":5,"c":4,"x":-89.48,"y":23.8},{"p":"a","s":5,"c":4,"x":-91.45,"y":35.7},{"p":"a","s":5,"c":4,"x":-93.42,"y":81.3},{"p":"a","s":5,"c":4,"x":-95.39,"y":119.3},{"p":"a","s":5,"c":4,"x":-97.36,"y":81.3},{"p":"a","s":5,"c":4,"x":-99.33,"y":35.7},{"p":"a","s":5,"c":4,"x":-101.3,"y":23.8},
{"p":"a","s":5,"c":5,"x":-95.05,"y":24.3},{"p":"a","s":5,"c":5,"x":-96.67,"y":42.7},{"p":"a","s":5,"c":5,"x":-98.29,"y":112.7},{"p":"a","s":5,"c":5,"x":-99.91,"y":171},{"p":"a","s":5,"c":5,"x":-101.53,"y":112.7},{"p":"a","s":5,"c":5,"x":-103.15,"y":42.7},{"p":"a","s":5,"c":5,"x":-104.77,"y":24.3},
{"p":"a","s":5,"c":6,"x":-99.48,"y":24.3},{"p":"a","s":5,"c":6,"x":-101.1,"y":41.8},{"p":"a","s":5,"c":6,"x":-102.72,"y":108.7},{"p":"a","s":5,"c":6,"x":-104.34,"y":164.3},{"p":"a","s":5,"c":6,"x":-105.96,"y":108.7},{"p":"a","s":5,"c":6,"x":-107.58,"y":41.8},{"p":"a","s":5,"c":6,"x":-109.2,"y":24.3},
{"p":"a","s":5,"c":7,"x":-103.95,"y":24.5},{"p":"a","s":5,"c":7,"x":-105.72,"y":45.1},{"p":"a","s":5,"c":7,"x":-107.49,"y":123.5},{"p":"a","s":5,"c":7,"x":-109.26,"y":188.7},{"p":"a","s":5,"c":7,"x":-111.03,"y":123.5},{"p":"a","s":5,"c":7,"x":-112.8,"y":45.1},{"p":"a","s":5,"c":7,"x":-114.57,"y":24.5},
{"p":"a","s":5,"c":8,"x":-109.06,"y":23.7},{"p":"a","s":5,"c":8,"x":-110.93,"y":34.6},{"p":"a","s":5,"c":8,"x":-112.8,"y":76.3},{"p":"a","s":5,"c":8,"x":-114.67,"y":111},{"p":"a","s":5,"c":8,"x":-116.54,"y":76.3},{"p":"a","s":5,"c":8,"x":-118.41,"y":34.6},{"p":"a","s":5,"c":8,"x":-120.28,"y":23.7},
{"p":"a","s":5,"c":9,"x":-114.72,"y":23.4},{"p":"a","s":5,"c":9,"x":-116.59,"y":30.8},{"p":"a","s":5,"c":9,"x":-118.46,"y":59.1},{"p":"a","s":5,"c":9,"x":-120.33,"y":82.7},{"p":"a","s":5,"c":9,"x":-122.2,"y":59.1},{"p":"a","s":5,"c":9,"x":-124.07,"y":30.8},{"p":"a","s":5,"c":9,"x":-125.94,"y":23.4},
{"p":"a","s":5,"c":10,"x":-119.34,"y":22.9},{"p":"a","s":5,"c":10,"x":-121.31,"y":25.4},{"p":"a","s":5,"c":10,"x":-123.28,"y":34.8},{"p":"a","s":5,"c":10,"x":-125.25,"y":42.7},{"p":"a","s":5,"c":10,"x":-127.22,"y":34.8},{"p":"a","s":5,"c":10,"x":-129.19,"y":25.4},{"p":"a","s":5,"c":10,"x":-130.4,"y":23.3},

{"p":"b","s":0,"c":1,"x":-78.58,"y":20.7},{"p":"b","s":0,"c":1,"x":-80.41,"y":25.8},{"p":"b","s":0,"c":1,"x":-82.24,"y":45},{"p":"b","s":0,"c":1,"x":-84.07,"y":61},{"p":"b","s":0,"c":1,"x":-85.9,"y":45},{"p":"b","s":0,"c":1,"x":-87.73,"y":25.8},{"p":"b","s":0,"c":1,"x":-89.56,"y":20.7},
{"p":"b","s":0,"c":2,"x":-83.15,"y":21.2},{"p":"b","s":0,"c":2,"x":-84.98,"y":30.8},{"p":"b","s":0,"c":2,"x":-86.81,"y":67.6},{"p":"b","s":0,"c":2,"x":-88.64,"y":98.3},{"p":"b","s":0,"c":2,"x":-90.47,"y":67.6},{"p":"b","s":0,"c":2,"x":-92.3,"y":30.8},{"p":"b","s":0,"c":2,"x":-94.13,"y":21.2},
{"p":"b","s":0,"c":3,"x":-88.45,"y":21.6},{"p":"b","s":0,"c":3,"x":-90.28,"y":36.1},{"p":"b","s":0,"c":3,"x":-92.11,"y":91.6},{"p":"b","s":0,"c":3,"x":-93.94,"y":137.7},{"p":"b","s":0,"c":3,"x":-95.77,"y":91.6},{"p":"b","s":0,"c":3,"x":-97.6,"y":36.1},{"p":"b","s":0,"c":3,"x":-99.43,"y":21.6},
{"p":"b","s":0,"c":4,"x":-93.85,"y":22.3},{"p":"b","s":0,"c":4,"x":-95.53,"y":44.7},{"p":"b","s":0,"c":4,"x":-97.21,"y":130},{"p":"b","s":0,"c":4,"x":-98.89,"y":201},{"p":"b","s":0,"c":4,"x":-100.57,"y":130},{"p":"b","s":0,"c":4,"x":-102.25,"y":44.7},{"p":"b","s":0,"c":4,"x":-103.93,"y":22.3},
{"p":"b","s":0,"c":5,"x":-99,"y":21.8},{"p":"b","s":0,"c":5,"x":-100.68,"y":39.3},{"p":"b","s":0,"c":5,"x":-102.36,"y":105.7},{"p":"b","s":0,"c":5,"x":-104.04,"y":161},{"p":"b","s":0,"c":5,"x":-105.72,"y":105.7},{"p":"b","s":0,"c":5,"x":-107.4,"y":39.3},{"p":"b","s":0,"c":5,"x":-109.08,"y":21.8},
{"p":"b","s":0,"c":6,"x":-103.75,"y":20.9},{"p":"b","s":0,"c":6,"x":-105.29,"y":28},{"p":"b","s":0,"c":6,"x":-106.83,"y":55.1},{"p":"b","s":0,"c":6,"x":-108.37,"y":77.7},{"p":"b","s":0,"c":6,"x":-109.91,"y":55.1},{"p":"b","s":0,"c":6,"x":-111.45,"y":28},{"p":"b","s":0,"c":6,"x":-112.99,"y":20.9},
{"p":"b","s":0,"c":7,"x":-107.42,"y":20.8},{"p":"b","s":0,"c":7,"x":-109.1,"y":26.9},{"p":"b","s":0,"c":7,"x":-110.78,"y":50},{"p":"b","s":0,"c":7,"x":-112.46,"y":69.3},{"p":"b","s":0,"c":7,"x":-114.14,"y":50},{"p":"b","s":0,"c":7,"x":-115.82,"y":26.9},{"p":"b","s":0,"c":7,"x":-117.5,"y":20.8},

{"p":"b","s":1,"c":1,"x":-71.75,"y":27.9},{"p":"b","s":1,"c":1,"x":-73.77,"y":30.8},{"p":"b","s":1,"c":1,"x":-75.79,"y":41.4},{"p":"b","s":1,"c":1,"x":-77.81,"y":50.3},{"p":"b","s":1,"c":1,"x":-79.83,"y":41.4},{"p":"b","s":1,"c":1,"x":-81.85,"y":30.8},{"p":"b","s":1,"c":1,"x":-83.87,"y":27.9},
{"p":"b","s":1,"c":2,"x":-77.53,"y":28.3},{"p":"b","s":1,"c":2,"x":-79.55,"y":34.6},{"p":"b","s":1,"c":2,"x":-81.57,"y":58.7},{"p":"b","s":1,"c":2,"x":-83.59,"y":78.7},{"p":"b","s":1,"c":2,"x":-85.61,"y":58.7},{"p":"b","s":1,"c":2,"x":-87.63,"y":34.6},{"p":"b","s":1,"c":2,"x":-89.65,"y":28.3},
{"p":"b","s":1,"c":3,"x":-82.43,"y":28.7},{"p":"b","s":1,"c":3,"x":-84.5,"y":40},{"p":"b","s":1,"c":3,"x":-86.57,"y":82.9},{"p":"b","s":1,"c":3,"x":-88.64,"y":118.7},{"p":"b","s":1,"c":3,"x":-90.71,"y":82.9},{"p":"b","s":1,"c":3,"x":-92.78,"y":40},{"p":"b","s":1,"c":3,"x":-94.85,"y":28.7},
{"p":"b","s":1,"c":4,"x":-87.39,"y":29.2},{"p":"b","s":1,"c":4,"x":-89.41,"y":45.6},{"p":"b","s":1,"c":4,"x":-91.43,"y":108.2},{"p":"b","s":1,"c":4,"x":-93.45,"y":160.3},{"p":"b","s":1,"c":4,"x":-95.47,"y":108.2},{"p":"b","s":1,"c":4,"x":-97.49,"y":45.6},{"p":"b","s":1,"c":4,"x":-99.51,"y":29.2},
{"p":"b","s":1,"c":5,"x":-92.48,"y":29.4},{"p":"b","s":1,"c":5,"x":-94.41,"y":49},{"p":"b","s":1,"c":5,"x":-96.34,"y":123.4},{"p":"b","s":1,"c":5,"x":-98.27,"y":185.3},{"p":"b","s":1,"c":5,"x":-100.2,"y":123.4},{"p":"b","s":1,"c":5,"x":-102.13,"y":49},{"p":"b","s":1,"c":5,"x":-104.06,"y":29.4},
{"p":"b","s":1,"c":6,"x":-98.01,"y":28.8},{"p":"b","s":1,"c":6,"x":-99.94,"y":41.2},{"p":"b","s":1,"c":6,"x":-101.87,"y":88.4},{"p":"b","s":1,"c":6,"x":-103.8,"y":127.7},{"p":"b","s":1,"c":6,"x":-105.73,"y":88.4},{"p":"b","s":1,"c":6,"x":-107.66,"y":41.2},{"p":"b","s":1,"c":6,"x":-109.59,"y":28.8},
{"p":"b","s":1,"c":7,"x":-102.88,"y":28},{"p":"b","s":1,"c":7,"x":-104.95,"y":31.8},{"p":"b","s":1,"c":7,"x":-107.02,"y":45.9},{"p":"b","s":1,"c":7,"x":-109.09,"y":57.7},{"p":"b","s":1,"c":7,"x":-111.16,"y":45.9},{"p":"b","s":1,"c":7,"x":-113.23,"y":31.8},{"p":"b","s":1,"c":7,"x":-115.3,"y":28},

{"p":"b","s":2,"c":1,"x":-72.02,"y":30.4},{"p":"b","s":2,"c":1,"x":-73.95,"y":32},{"p":"b","s":2,"c":1,"x":-75.88,"y":38},{"p":"b","s":2,"c":1,"x":-77.81,"y":43},{"p":"b","s":2,"c":1,"x":-79.74,"y":38},{"p":"b","s":2,"c":1,"x":-81.67,"y":32},{"p":"b","s":2,"c":1,"x":-83.6,"y":30.4},
{"p":"b","s":2,"c":2,"x":-76.84,"y":30.9},{"p":"b","s":2,"c":2,"x":-79.01,"y":37.4},{"p":"b","s":2,"c":2,"x":-81.18,"y":62.3},{"p":"b","s":2,"c":2,"x":-83.35,"y":83},{"p":"b","s":2,"c":2,"x":-85.52,"y":62.3},{"p":"b","s":2,"c":2,"x":-87.69,"y":37.4},{"p":"b","s":2,"c":2,"x":-89.86,"y":30.9},
{"p":"b","s":2,"c":3,"x":-81.71,"y":31.4},{"p":"b","s":2,"c":3,"x":-84.02,"y":44.4},{"p":"b","s":2,"c":3,"x":-86.33,"y":93.7},{"p":"b","s":2,"c":3,"x":-88.64,"y":134.7},{"p":"b","s":2,"c":3,"x":-90.95,"y":93.7},{"p":"b","s":2,"c":3,"x":-93.26,"y":44.4},{"p":"b","s":2,"c":3,"x":-95.57,"y":31.4},
{"p":"b","s":2,"c":4,"x":-87.43,"y":31.8},{"p":"b","s":2,"c":4,"x":-89.6,"y":48.4},{"p":"b","s":2,"c":4,"x":-91.77,"y":111.9},{"p":"b","s":2,"c":4,"x":-93.94,"y":164.7},{"p":"b","s":2,"c":4,"x":-96.11,"y":111.9},{"p":"b","s":2,"c":4,"x":-98.28,"y":48.4},{"p":"b","s":2,"c":4,"x":-100.45,"y":31.8},
{"p":"b","s":2,"c":5,"x":-92.38,"y":31.9},{"p":"b","s":2,"c":5,"x":-94.55,"y":50.2},{"p":"b","s":2,"c":5,"x":-96.72,"y":120},{"p":"b","s":2,"c":5,"x":-98.89,"y":178},{"p":"b","s":2,"c":5,"x":-101.06,"y":120},{"p":"b","s":2,"c":5,"x":-103.23,"y":50.2},{"p":"b","s":2,"c":5,"x":-105.4,"y":31.9},
{"p":"b","s":2,"c":6,"x":-97.29,"y":31.5},{"p":"b","s":2,"c":6,"x":-99.46,"y":44.8},{"p":"b","s":2,"c":6,"x":-101.63,"y":95.7},{"p":"b","s":2,"c":6,"x":-103.8,"y":138},{"p":"b","s":2,"c":6,"x":-105.97,"y":95.7},{"p":"b","s":2,"c":6,"x":-108.14,"y":44.8},{"p":"b","s":2,"c":6,"x":-110.31,"y":31.5},
{"p":"b","s":2,"c":7,"x":-103.31,"y":30.8},{"p":"b","s":2,"c":7,"x":-105.48,"y":36.5},{"p":"b","s":2,"c":7,"x":-107.65,"y":58.2},{"p":"b","s":2,"c":7,"x":-109.82,"y":76.3},{"p":"b","s":2,"c":7,"x":-111.99,"y":58.2},{"p":"b","s":2,"c":7,"x":-114.16,"y":36.5},{"p":"b","s":2,"c":7,"x":-116.33,"y":30.8},
{"p":"b","s":2,"c":8,"x":-110.26,"y":30.5},{"p":"b","s":2,"c":8,"x":-112.28,"y":33.1},{"p":"b","s":2,"c":8,"x":-114.3,"y":43},{"p":"b","s":2,"c":8,"x":-116.32,"y":51.3},{"p":"b","s":2,"c":8,"x":-118.34,"y":43},{"p":"b","s":2,"c":8,"x":-120.36,"y":33.1},{"p":"b","s":2,"c":8,"x":-122.38,"y":30.5},

{"p":"b","s":3,"c":1,"x":-75.69,"y":36.9},{"p":"b","s":3,"c":1,"x":-77.52,"y":39},{"p":"b","s":3,"c":1,"x":-79.35,"y":47.2},{"p":"b","s":3,"c":1,"x":-81.18,"y":54},{"p":"b","s":3,"c":1,"x":-83.01,"y":47.2},{"p":"b","s":3,"c":1,"x":-84.84,"y":39},{"p":"b","s":3,"c":1,"x":-86.67,"y":36.9},
{"p":"b","s":3,"c":2,"x":-79.69,"y":37.1},{"p":"b","s":3,"c":2,"x":-81.71,"y":42.2},{"p":"b","s":3,"c":2,"x":-83.73,"y":61.3},{"p":"b","s":3,"c":2,"x":-85.75,"y":77.3},{"p":"b","s":3,"c":2,"x":-87.77,"y":61.3},{"p":"b","s":3,"c":2,"x":-89.79,"y":42.2},{"p":"b","s":3,"c":2,"x":-91.81,"y":37.1},
{"p":"b","s":3,"c":3,"x":-83.78,"y":37.5},{"p":"b","s":3,"c":3,"x":-85.8,"y":46.9},{"p":"b","s":3,"c":3,"x":-87.82,"y":82.6},{"p":"b","s":3,"c":3,"x":-89.84,"y":112.3},{"p":"b","s":3,"c":3,"x":-91.86,"y":82.6},{"p":"b","s":3,"c":3,"x":-93.88,"y":46.9},{"p":"b","s":3,"c":3,"x":-95.9,"y":37.5},
{"p":"b","s":3,"c":4,"x":-88.36,"y":37.9},{"p":"b","s":3,"c":4,"x":-90.38,"y":51.4},{"p":"b","s":3,"c":4,"x":-92.4,"y":102.9},{"p":"b","s":3,"c":4,"x":-94.42,"y":145.7},{"p":"b","s":3,"c":4,"x":-96.44,"y":102.9},{"p":"b","s":3,"c":4,"x":-98.46,"y":51.4},{"p":"b","s":3,"c":4,"x":-100.48,"y":37.9},
{"p":"b","s":3,"c":5,"x":-93.65,"y":37.9},{"p":"b","s":3,"c":5,"x":-95.67,"y":51.6},{"p":"b","s":3,"c":5,"x":-97.69,"y":103.8},{"p":"b","s":3,"c":5,"x":-99.71,"y":147.3},{"p":"b","s":3,"c":5,"x":-101.73,"y":103.8},{"p":"b","s":3,"c":5,"x":-103.75,"y":51.6},{"p":"b","s":3,"c":5,"x":-105.77,"y":37.9},
{"p":"b","s":3,"c":6,"x":-98.46,"y":37.4},{"p":"b","s":3,"c":6,"x":-100.48,"y":45.6},{"p":"b","s":3,"c":6,"x":-102.5,"y":76.5},{"p":"b","s":3,"c":6,"x":-104.52,"y":102.3},{"p":"b","s":3,"c":6,"x":-106.54,"y":76.5},{"p":"b","s":3,"c":6,"x":-108.56,"y":45.6},{"p":"b","s":3,"c":6,"x":-110.58,"y":37.4},
{"p":"b","s":3,"c":7,"x":-103.31,"y":37.1},{"p":"b","s":3,"c":7,"x":-105.48,"y":42.2},{"p":"b","s":3,"c":7,"x":-107.65,"y":61.3},{"p":"b","s":3,"c":7,"x":-109.82,"y":77.3},{"p":"b","s":3,"c":7,"x":-111.99,"y":61.3},{"p":"b","s":3,"c":7,"x":-114.16,"y":42.2},{"p":"b","s":3,"c":7,"x":-116.33,"y":37.1},
{"p":"b","s":3,"c":8,"x":-111.55,"y":36.9},{"p":"b","s":3,"c":8,"x":-113.38,"y":39.4},{"p":"b","s":3,"c":8,"x":-115.21,"y":48.8},{"p":"b","s":3,"c":8,"x":-117.04,"y":56.7},{"p":"b","s":3,"c":8,"x":-118.87,"y":48.8},{"p":"b","s":3,"c":8,"x":-120.7,"y":39.4},{"p":"b","s":3,"c":8,"x":-122.53,"y":36.9},

{"p":"b","s":4,"c":1,"x":-76.56,"y":33},{"p":"b","s":4,"c":1,"x":-78.1,"y":35.8},{"p":"b","s":4,"c":1,"x":-79.64,"y":46.8},{"p":"b","s":4,"c":1,"x":-81.18,"y":56},{"p":"b","s":4,"c":1,"x":-82.72,"y":46.8},{"p":"b","s":4,"c":1,"x":-84.26,"y":35.8},{"p":"b","s":4,"c":1,"x":-85.8,"y":33},
{"p":"b","s":4,"c":2,"x":-81.38,"y":33.5},{"p":"b","s":4,"c":2,"x":-82.92,"y":42.5},{"p":"b","s":4,"c":2,"x":-84.46,"y":76.6},{"p":"b","s":4,"c":2,"x":-86,"y":105},{"p":"b","s":4,"c":2,"x":-87.54,"y":76.6},{"p":"b","s":4,"c":2,"x":-89.08,"y":42.5},{"p":"b","s":4,"c":2,"x":-90.62,"y":33.5},
{"p":"b","s":4,"c":3,"x":-85.28,"y":33.7},{"p":"b","s":4,"c":3,"x":-86.72,"y":44.7},{"p":"b","s":4,"c":3,"x":-88.16,"y":86.7},{"p":"b","s":4,"c":3,"x":-89.6,"y":121.7},{"p":"b","s":4,"c":3,"x":-91.04,"y":86.7},{"p":"b","s":4,"c":3,"x":-92.48,"y":44.7},{"p":"b","s":4,"c":3,"x":-93.92,"y":33.7},
{"p":"b","s":4,"c":4,"x":-89.56,"y":34.1},{"p":"b","s":4,"c":4,"x":-91.1,"y":49.4},{"p":"b","s":4,"c":4,"x":-92.64,"y":108},{"p":"b","s":4,"c":4,"x":-94.18,"y":156.7},{"p":"b","s":4,"c":4,"x":-95.72,"y":108},{"p":"b","s":4,"c":4,"x":-97.26,"y":49.4},{"p":"b","s":4,"c":4,"x":-98.8,"y":34.1},
{"p":"b","s":4,"c":5,"x":-94.22,"y":34},{"p":"b","s":4,"c":5,"x":-95.81,"y":48.3},{"p":"b","s":4,"c":5,"x":-97.4,"y":102.9},{"p":"b","s":4,"c":5,"x":-98.99,"y":148.3},{"p":"b","s":4,"c":5,"x":-100.58,"y":102.9},{"p":"b","s":4,"c":5,"x":-102.17,"y":48.3},{"p":"b","s":4,"c":5,"x":-103.76,"y":34},
{"p":"b","s":4,"c":6,"x":-98.7,"y":33.5},{"p":"b","s":4,"c":6,"x":-100.24,"y":42.2},{"p":"b","s":4,"c":6,"x":-101.78,"y":75.6},{"p":"b","s":4,"c":6,"x":-103.32,"y":103.3},{"p":"b","s":4,"c":6,"x":-104.86,"y":75.6},{"p":"b","s":4,"c":6,"x":-106.4,"y":42.2},{"p":"b","s":4,"c":6,"x":-107.94,"y":33.5},
{"p":"b","s":4,"c":7,"x":-103.57,"y":33.5},{"p":"b","s":4,"c":7,"x":-105.25,"y":42},{"p":"b","s":4,"c":7,"x":-106.93,"y":74.6},{"p":"b","s":4,"c":7,"x":-108.61,"y":101.7},{"p":"b","s":4,"c":7,"x":-110.29,"y":74.6},{"p":"b","s":4,"c":7,"x":-111.97,"y":42},{"p":"b","s":4,"c":7,"x":-113.65,"y":33.5},
{"p":"b","s":4,"c":8,"x":-111.27,"y":33.1},{"p":"b","s":4,"c":8,"x":-112.47,"y":37.5},{"p":"b","s":4,"c":8,"x":-113.67,"y":54.3},{"p":"b","s":4,"c":8,"x":-114.87,"y":68.3},{"p":"b","s":4,"c":8,"x":-116.07,"y":54.3},{"p":"b","s":4,"c":8,"x":-117.27,"y":37.5},{"p":"b","s":4,"c":8,"x":-118.47,"y":33.1},

{"p":"b","s":5,"c":1,"x":-75.39,"y":28},{"p":"b","s":5,"c":1,"x":-77.32,"y":31.1},{"p":"b","s":5,"c":1,"x":-79.25,"y":42.9},{"p":"b","s":5,"c":1,"x":-81.18,"y":52.7},{"p":"b","s":5,"c":1,"x":-83.11,"y":42.9},{"p":"b","s":5,"c":1,"x":-85.04,"y":31.1},{"p":"b","s":5,"c":1,"x":-86.97,"y":28},
{"p":"b","s":5,"c":2,"x":-78.73,"y":28.2},{"p":"b","s":5,"c":2,"x":-80.75,"y":33.3},{"p":"b","s":5,"c":2,"x":-82.77,"y":53},{"p":"b","s":5,"c":2,"x":-84.79,"y":69.3},{"p":"b","s":5,"c":2,"x":-86.81,"y":53},{"p":"b","s":5,"c":2,"x":-88.83,"y":33.3},{"p":"b","s":5,"c":2,"x":-90.85,"y":28.2},
{"p":"b","s":5,"c":3,"x":-85.02,"y":28.5},{"p":"b","s":5,"c":3,"x":-86.95,"y":38},{"p":"b","s":5,"c":3,"x":-88.88,"y":74.2},{"p":"b","s":5,"c":3,"x":-90.81,"y":104.3},{"p":"b","s":5,"c":3,"x":-92.74,"y":74.2},{"p":"b","s":5,"c":3,"x":-94.67,"y":38},{"p":"b","s":5,"c":3,"x":-96.6,"y":28.5},
{"p":"b","s":5,"c":4,"x":-89.89,"y":28.8},{"p":"b","s":5,"c":4,"x":-91.72,"y":41.1},{"p":"b","s":5,"c":4,"x":-93.55,"y":87.8},{"p":"b","s":5,"c":4,"x":-95.38,"y":126.7},{"p":"b","s":5,"c":4,"x":-97.21,"y":87.8},{"p":"b","s":5,"c":4,"x":-99.04,"y":41.1},{"p":"b","s":5,"c":4,"x":-100.87,"y":28.8},
{"p":"b","s":5,"c":5,"x":-95.28,"y":29.3},{"p":"b","s":5,"c":5,"x":-96.87,"y":48},{"p":"b","s":5,"c":5,"x":-98.46,"y":118.7},{"p":"b","s":5,"c":5,"x":-100.05,"y":177.7},{"p":"b","s":5,"c":5,"x":-101.64,"y":118.7},{"p":"b","s":5,"c":5,"x":-103.23,"y":48},{"p":"b","s":5,"c":5,"x":-104.82,"y":29.3},
{"p":"b","s":5,"c":6,"x":-99.9,"y":29.3},{"p":"b","s":5,"c":6,"x":-101.44,"y":47.3},{"p":"b","s":5,"c":6,"x":-102.98,"y":115.7},{"p":"b","s":5,"c":6,"x":-104.52,"y":172.7},{"p":"b","s":5,"c":6,"x":-106.06,"y":115.7},{"p":"b","s":5,"c":6,"x":-107.6,"y":47.3},{"p":"b","s":5,"c":6,"x":-109.14,"y":29.3},
{"p":"b","s":5,"c":7,"x":-104.3,"y":29.5},{"p":"b","s":5,"c":7,"x":-105.98,"y":50.4},{"p":"b","s":5,"c":7,"x":-107.66,"y":129.9},{"p":"b","s":5,"c":7,"x":-109.34,"y":196},{"p":"b","s":5,"c":7,"x":-111.02,"y":129.9},{"p":"b","s":5,"c":7,"x":-112.7,"y":50.4},{"p":"b","s":5,"c":7,"x":-114.38,"y":29.5},
{"p":"b","s":5,"c":8,"x":-109.62,"y":28.7},{"p":"b","s":5,"c":8,"x":-111.45,"y":39.9},{"p":"b","s":5,"c":8,"x":-113.28,"y":82.3},{"p":"b","s":5,"c":8,"x":-115.11,"y":117.7},{"p":"b","s":5,"c":8,"x":-116.94,"y":82.3},{"p":"b","s":5,"c":8,"x":-118.77,"y":39.9},{"p":"b","s":5,"c":8,"x":-120.6,"y":28.7},
{"p":"b","s":5,"c":9,"x":-115.1,"y":28.4},{"p":"b","s":5,"c":9,"x":-117.03,"y":35.8},{"p":"b","s":5,"c":9,"x":-118.96,"y":64.1},{"p":"b","s":5,"c":9,"x":-120.89,"y":87.7},{"p":"b","s":5,"c":9,"x":-122.82,"y":64.1},{"p":"b","s":5,"c":9,"x":-124.75,"y":35.8},{"p":"b","s":5,"c":9,"x":-126.68,"y":28.4},
{"p":"b","s":5,"c":10,"x":-119.91,"y":27.9},{"p":"b","s":5,"c":10,"x":-121.84,"y":30.4},{"p":"b","s":5,"c":10,"x":-123.77,"y":39.8},{"p":"b","s":5,"c":10,"x":-125.7,"y":47.7},{"p":"b","s":5,"c":10,"x":-127.63,"y":39.8},{"p":"b","s":5,"c":10,"x":-129.9,"y":29.6}
]},
"hconcat":[
{"transform":[{"filter":"datum.p=='a'"}],
 "bounds":"flush","spacing":0,
 "facet":{"row":{"field":"s","type":"ordinal","header":null}},
 "spec":{"width":460,"height":211,
  "layer":[
   {"transform":[{"filter":"datum.c>0"}],
    "mark":{"type":"line","interpolate":"monotone","strokeDash":[6,4],"strokeWidth":1.4,"color":"black"},
    "encoding":{
     "x":{"field":"x","type":"quantitative","scale":{"domain":[-130.4,-62.5],"reverse":true,"nice":false,"zero":false},"axis":{"values":[-68,-82,-95,-109,-122],"labelExpr":"'-'+abs(datum.value)","title":"Хемијски померај (ppm)"}},
     "y":{"field":"y","type":"quantitative","scale":{"domain":[0,211],"nice":false,"zero":false},"axis":null},
     "detail":{"field":"c","type":"nominal"}}},
   {"transform":[{"filter":"datum.c==0"}],
    "mark":{"type":"line","interpolate":"monotone","strokeWidth":2,"color":"black"},
    "encoding":{"x":{"field":"x","type":"quantitative"},"y":{"field":"y","type":"quantitative","axis":null}}},
   {"transform":[{"filter":"isValid(datum.t)"}],
    "mark":{"type":"rule","strokeDash":[8,4],"strokeWidth":1.3,"color":"black"},
    "encoding":{"x":{"datum":-99,"type":"quantitative"}}},
   {"transform":[{"filter":"isValid(datum.t)&&datum.s==0"}],
    "mark":{"type":"rule","strokeDash":[8,4],"strokeWidth":1.3,"color":"black"},
    "encoding":{"x":{"datum":-99,"type":"quantitative"},"y":{"datum":211,"type":"quantitative","axis":null},"y2":{"datum":217.7}}},
   {"transform":[{"filter":"isValid(datum.t)&&datum.s==0"}],
    "mark":{"type":"text","font":"DejaVu Sans Mono","fontSize":20,"align":"center","baseline":"alphabetic","color":"black"},
    "encoding":{"x":{"datum":-97.3,"type":"quantitative"},"y":{"datum":221,"type":"quantitative","axis":null},"text":{"value":"-99"}}},
   {"transform":[{"filter":"isValid(datum.t)&&datum.s==0"}],
    "mark":{"type":"text","fontSize":32,"fontWeight":"bold","align":"left","baseline":"alphabetic","color":"black"},
    "encoding":{"x":{"datum":-64.2,"type":"quantitative"},"y":{"datum":221,"type":"quantitative","axis":null},"text":{"value":"а)"}}},
   {"transform":[{"filter":"isValid(datum.t)&&datum.s==0"}],
    "mark":{"type":"text","font":"DejaVu Sans Mono","fontSize":20,"align":"center","baseline":"alphabetic","opacity":0},
    "encoding":{"x":{"datum":-97.3,"type":"quantitative"},"y":{"datum":243,"type":"quantitative","axis":null},"text":{"value":"-99"}}},
   {"transform":[{"filter":"isValid(datum.t)"}],
    "mark":{"type":"text","fontSize":25,"fontWeight":"bold","align":"left","baseline":"middle","color":"black"},
    "encoding":{"x":{"field":"x","type":"quantitative"},"y":{"field":"y","type":"quantitative","axis":null},"text":{"field":"t"}}}
  ]}},
{"transform":[{"filter":"datum.p=='b'"}],
 "bounds":"flush","spacing":0,
 "facet":{"row":{"field":"s","type":"ordinal","header":null}},
 "spec":{"width":466,"height":211,
  "layer":[
   {"transform":[{"filter":"datum.c>0"}],
    "mark":{"type":"line","interpolate":"monotone","strokeDash":[6,4],"strokeWidth":1.4,"color":"black"},
    "encoding":{
     "x":{"field":"x","type":"quantitative","scale":{"domain":[-129.9,-62.6],"reverse":true,"nice":false,"zero":false},"axis":{"values":[-68,-82,-95,-109,-122],"labelExpr":"'-'+abs(datum.value)","title":"Хемијски померај (ppm)"}},
     "y":{"field":"y","type":"quantitative","scale":{"domain":[0,211],"nice":false,"zero":false},"axis":null},
     "detail":{"field":"c","type":"nominal"}}},
   {"transform":[{"filter":"datum.c==0"}],
    "mark":{"type":"line","interpolate":"monotone","strokeWidth":2,"color":"black"},
    "encoding":{"x":{"field":"x","type":"quantitative"},"y":{"field":"y","type":"quantitative","axis":null}}},
   {"transform":[{"filter":"isValid(datum.t)"}],
    "mark":{"type":"rule","strokeDash":[8,4],"strokeWidth":1.2,"color":"black"},
    "encoding":{"x":{"datum":-99,"type":"quantitative"}}},
   {"transform":[{"filter":"isValid(datum.t)&&datum.s==0"}],
    "mark":{"type":"rule","strokeDash":[8,4],"strokeWidth":1.2,"color":"black"},
    "encoding":{"x":{"datum":-99,"type":"quantitative"},"y":{"datum":211,"type":"quantitative","axis":null},"y2":{"datum":239.3}}},
   {"transform":[{"filter":"isValid(datum.t)&&datum.s==0"}],
    "mark":{"type":"text","font":"DejaVu Sans Mono","fontSize":20,"align":"center","baseline":"alphabetic","color":"black"},
    "encoding":{"x":{"datum":-97.9,"type":"quantitative"},"y":{"datum":243,"type":"quantitative","axis":null},"text":{"value":"-99"}}},
   {"transform":[{"filter":"isValid(datum.t)&&datum.s==0"}],
    "mark":{"type":"text","fontSize":32,"fontWeight":"bold","align":"left","baseline":"alphabetic","color":"black"},
    "encoding":{"x":{"datum":-65.05,"type":"quantitative"},"y":{"datum":221,"type":"quantitative","axis":null},"text":{"value":"б)"}}},
   {"transform":[{"filter":"isValid(datum.t)"}],
    "mark":{"type":"text","fontSize":25,"fontWeight":"bold","align":"left","baseline":"middle","color":"black"},
    "encoding":{"x":{"field":"x","type":"quantitative"},"y":{"field":"y","type":"quantitative","axis":null},"text":{"field":"t"}}}
  ]}}
]
}
